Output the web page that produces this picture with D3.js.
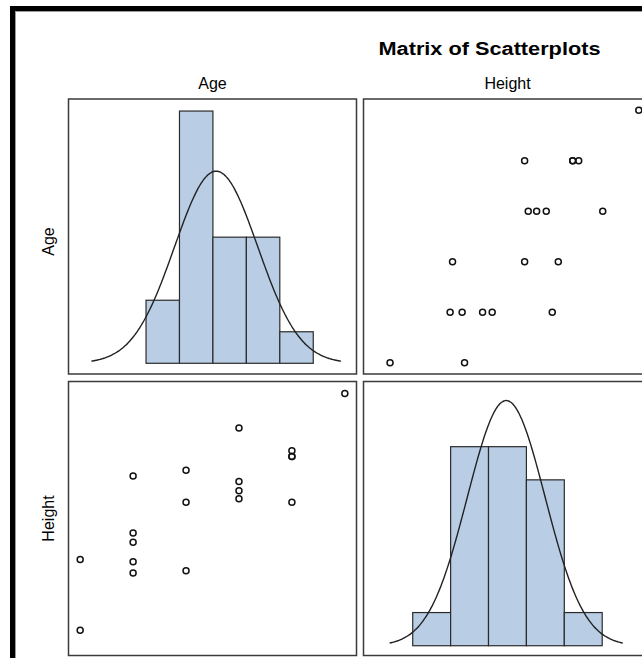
<!DOCTYPE html>
<html>
<head>
<meta charset="utf-8">
<script src="https://cdn.jsdelivr.net/npm/d3@7"></script>
<style>
  html, body { margin: 0; padding: 0; background: #ffffff; }
  svg { display: block; }
  text { font-family: "Liberation Sans", Arial, sans-serif; fill: #000; }
</style>
</head>
<body>
<svg id="chart" width="642" height="658"></svg>
<script>
// ---- data (sashelp.class style: Age / Height) ----
const names  = ["Alfred","Alice","Barbara","Carol","Henry","James","Jane","Janet","Jeffrey","John","Joyce","Judy","Louise","Mary","Philip","Robert","Ronald","Thomas","William"];
const age    = [14, 13, 13, 14, 14, 12, 12, 15, 13, 12, 11, 14, 12, 15, 16, 12, 15, 11, 15];
const height = [69.0, 56.5, 65.3, 62.8, 63.5, 57.3, 59.8, 62.5, 62.5, 59.0, 51.3, 64.3, 56.3, 66.5, 72.0, 64.8, 67.0, 57.5, 66.5];

const variables = ["Age", "Height"];
const titleText = "Matrix of Scatterplots";

// histogram bins (edges) and counts
const ageBinEdges    = [10.8, 12.0, 13.2, 14.4, 15.6, 16.8];
const ageBinCounts   = [2, 8, 4, 4, 1];
const heightBinEdges = [50, 55, 60, 65, 70, 75];
const heightBinCounts= [1, 6, 6, 5, 1];

// fitted normal parameters
const ageMean = 13.316, ageSD = 1.4927;
const heightMean = 62.337, heightSD = 5.1271;

// axis domains (as displayed, no visible axes)
const ageScatterDomain    = [10.77, 16.23];
const heightScatterDomain = [49.05, 73.1];
const ageHistXDomain      = [8.0, 18.37];
const ageHistYDomain      = [-1.87, 44.2];
const heightHistXDomain   = [43.44, 81.57];
const heightHistYDomain   = [-1.63, 42.0];

// ---- layout ----
const svg = d3.select("#chart");
const W = 642, H = 658;
const colX = [68, 363], colW = 289;
const rowY = [98.5, 381], rowH = [276, 275];
const N = age.length;

svg.append("rect").attr("x", 0).attr("y", 0).attr("width", W).attr("height", H).attr("fill", "#ffffff");

// outer frame
svg.append("rect").attr("x", 12.5).attr("y", 8.5).attr("width", 900).attr("height", 900)
  .attr("fill", "none").attr("stroke", "#000").attr("stroke-width", 5);
svg.append("rect").attr("x", 15.5).attr("y", 11.5).attr("width", 900).attr("height", 900)
  .attr("fill", "none").attr("stroke", "#9a9a9a").attr("stroke-width", 1);

// title
svg.append("text").attr("x", 489.5).attr("y", 54.5).attr("text-anchor", "middle")
  .attr("font-size", 17.5).attr("font-weight", "bold")
  .attr("textLength", 222).attr("lengthAdjust", "spacingAndGlyphs")
  .text(titleText);

// column headers
variables.forEach((v, i) => {
  svg.append("text").attr("x", colX[i] + colW / 2).attr("y", 89)
    .attr("text-anchor", "middle").attr("font-size", 16).text(v);
});
// row headers
variables.forEach((v, i) => {
  const cy = rowY[i] + rowH[i] / 2 + (i === 0 ? 5 : 0);
  svg.append("text").attr("transform", `translate(54,${cy}) rotate(-90)`)
    .attr("text-anchor", "middle").attr("font-size", 16).text(v);
});

const defs = svg.append("defs");
function panel(ci, ri) {
  const id = `clip${ci}${ri}`;
  defs.append("clipPath").attr("id", id).append("rect")
    .attr("x", colX[ci]).attr("y", rowY[ri]).attr("width", colW).attr("height", rowH[ri]);
  return svg.append("g").attr("clip-path", `url(#${id})`);
}
function frame(ci, ri) {
  svg.append("rect").attr("x", colX[ci] + 0.5).attr("y", rowY[ri] + 0.5)
    .attr("width", colW - 1).attr("height", rowH[ri] - 1)
    .attr("fill", "none").attr("stroke", "#3a3a3a").attr("stroke-width", 1.5);
}

const barFill = "#b9cde5";
function histogram(ci, ri, edges, counts, mean, sd, xDom, yDom) {
  const g = panel(ci, ri);
  const x = d3.scaleLinear().domain(xDom).range([colX[ci], colX[ci] + colW]);
  const y = d3.scaleLinear().domain(yDom).range([rowY[ri] + rowH[ri], rowY[ri]]);
  const pct = counts.map(c => c / N * 100);
  g.selectAll("rect.bar").data(pct).join("rect").attr("class", "bar")
    .attr("x", (d, i) => x(edges[i]))
    .attr("width", (d, i) => x(edges[i + 1]) - x(edges[i]))
    .attr("y", d => y(d))
    .attr("height", d => y(0) - y(d))
    .attr("fill", barFill).attr("stroke", "#2b2b2b").attr("stroke-width", 1.2);
  const bw = edges[1] - edges[0];
  const pts = d3.range(0, 201).map(k => {
    const v = mean - 3 * sd + k * 6 * sd / 200;
    const dens = bw * 100 / (sd * Math.sqrt(2 * Math.PI)) * Math.exp(-0.5 * ((v - mean) / sd) ** 2);
    return [v, dens];
  });
  g.append("path").datum(pts)
    .attr("d", d3.line().x(d => x(d[0])).y(d => y(d[1])).curve(d3.curveBasis))
    .attr("fill", "none").attr("stroke", "#222").attr("stroke-width", 1.4);
  frame(ci, ri);
}

function scatter(ci, ri, xs, ys, xDom, yDom) {
  const g = panel(ci, ri);
  const x = d3.scaleLinear().domain(xDom).range([colX[ci], colX[ci] + colW]);
  const y = d3.scaleLinear().domain(yDom).range([rowY[ri] + rowH[ri], rowY[ri]]);
  g.selectAll("circle").data(d3.range(N)).join("circle")
    .attr("cx", i => x(xs[i])).attr("cy", i => y(ys[i])).attr("r", 3)
    .attr("fill", "none").attr("stroke", "#111").attr("stroke-width", 1.5);
  frame(ci, ri);
}

histogram(0, 0, ageBinEdges, ageBinCounts, ageMean, ageSD, ageHistXDomain, ageHistYDomain);
scatter(1, 0, height, age, heightScatterDomain, ageScatterDomain);
scatter(0, 1, age, height, ageScatterDomain, heightScatterDomain);
histogram(1, 1, heightBinEdges, heightBinCounts, heightMean, heightSD, heightHistXDomain, heightHistYDomain);
</script>
</body>
</html>
